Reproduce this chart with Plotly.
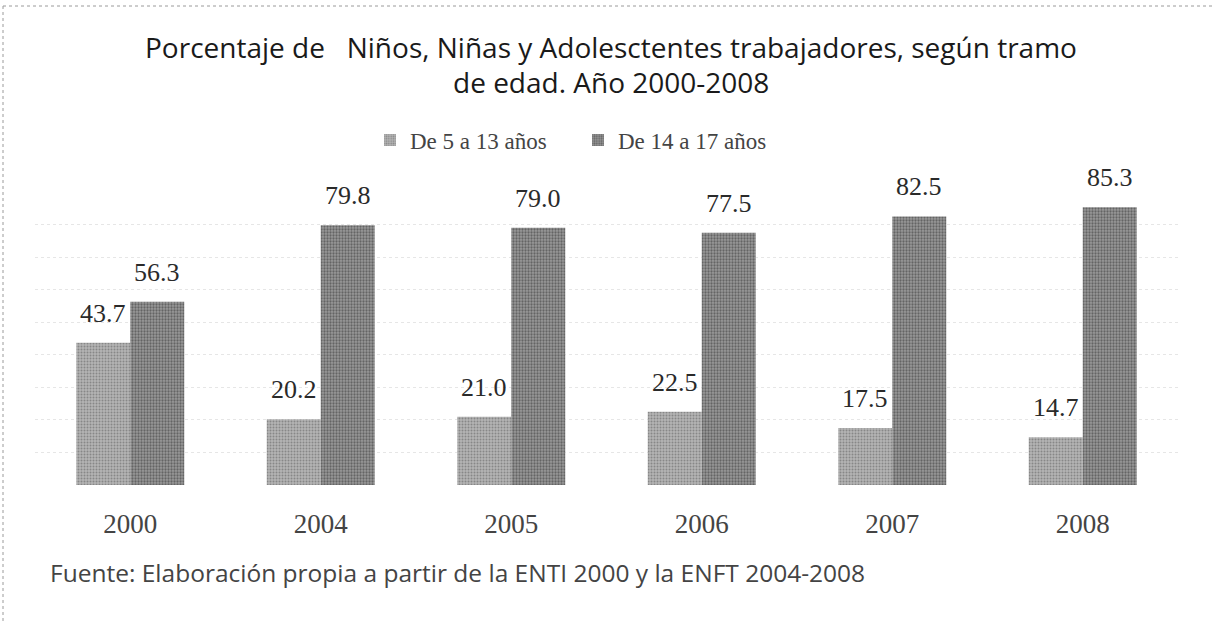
import plotly.graph_objects as go

years = ["2000", "2004", "2005", "2006", "2007", "2008"]
serie_5_13 = [43.7, 20.2, 21.0, 22.5, 17.5, 14.7]
serie_14_17 = [56.3, 79.8, 79.0, 77.5, 82.5, 85.3]
series_names = ["De 5 a 13 años", "De 14 a 17 años"]

title_lines = ["Porcentaje de   Niños, Niñas y Adolesctentes trabajadores, según tramo",
               "de edad. Año 2000-2008"]
source_text = "Fuente: Elaboración propia a partir de la ENTI 2000 y la ENFT 2004-2008"

W, H = 1213, 623
ml, mr, mt, mb = 35, 35, 192, 138

serif = "Liberation Serif, Times New Roman, serif"
sans = "Open Sans, Noto Sans, sans-serif"

fig = go.Figure()
fig.add_trace(go.Bar(
    x=years, y=serie_5_13, name=series_names[0],
    marker=dict(color="#a8a8a8", line=dict(width=0),
                pattern=dict(shape=".", fgcolor="#5a5a5a", bgcolor="#b4b4b4", size=3, solidity=0.35)),
))
fig.add_trace(go.Bar(
    x=years, y=serie_14_17, name=series_names[1],
    marker=dict(color="#848484", line=dict(width=0),
                pattern=dict(shape=".", fgcolor="#303030", bgcolor="#999999", size=3, solidity=0.45)),
))

def px_x(px):
    return (px - ml) / (W - ml - mr)

def px_y(py):
    return (H - mb - py) / (H - mt - mb)

annotations = [
    dict(text=title_lines[0], x=px_x(611), y=px_y(47), xref="paper", yref="paper",
         showarrow=False, xanchor="center", yanchor="middle",
         font=dict(family=sans, size=28, color="#1a1a1a")),
    dict(text=title_lines[1], x=px_x(611), y=px_y(82), xref="paper", yref="paper",
         showarrow=False, xanchor="center", yanchor="middle",
         font=dict(family=sans, size=28, color="#1a1a1a")),
    dict(text=source_text, x=px_x(48), y=px_y(572), xref="paper", yref="paper",
         showarrow=False, xanchor="left", yanchor="middle",
         font=dict(family=sans, size=24.5, color="#444444")),
]

# value labels placed above each bar via data coordinates (category index)
for vals, shift in ((serie_5_13, -27), (serie_14_17, 27)):
    for i, v in enumerate(vals):
        annotations.append(dict(
            text=f"{v:.1f}", x=i, y=v, xref="x", yref="y", showarrow=False,
            xanchor="center", yanchor="bottom", xshift=shift, yshift=13,
            font=dict(family=serif, size=26, color="#2a2a2a")))

shapes = [
    dict(type="line", xref="paper", yref="paper", x0=px_x(3), x1=px_x(1213), y0=px_y(6), y1=px_y(6),
         line=dict(color="#9a9a9a", width=1, dash="dot")),
    dict(type="line", xref="paper", yref="paper", x0=px_x(3), x1=px_x(3), y0=px_y(6), y1=px_y(623),
         line=dict(color="#9a9a9a", width=1, dash="dot")),
]

fig.update_layout(
    width=W, height=H,
    margin=dict(l=ml, r=mr, t=mt, b=mb),
    paper_bgcolor="white", plot_bgcolor="white",
    barmode="group", bargap=0.433, bargroupgap=0,
    showlegend=True,
    legend=dict(orientation="h", x=px_x(370), y=px_y(140), xanchor="left", yanchor="middle",
                font=dict(family=serif, size=23, color="#444444"),
                itemwidth=30, entrywidth=163,
                bgcolor="rgba(0,0,0,0)", traceorder="normal"),
    annotations=annotations, shapes=shapes,
    xaxis=dict(type="category", range=[-0.5, len(years) - 0.5], showline=False, ticks="",
               tickfont=dict(family=serif, size=27, color="#444444"),
               ticklabelstandoff=20),
    yaxis=dict(range=[0, 90], showticklabels=False, showgrid=True, gridcolor="#e6e6e6",
               griddash="dot", dtick=10, zeroline=False, showline=False),
)

fig.write_html("out.html", config={"displayModeBar": False},
               post_script="document.body.style.margin='0';")
